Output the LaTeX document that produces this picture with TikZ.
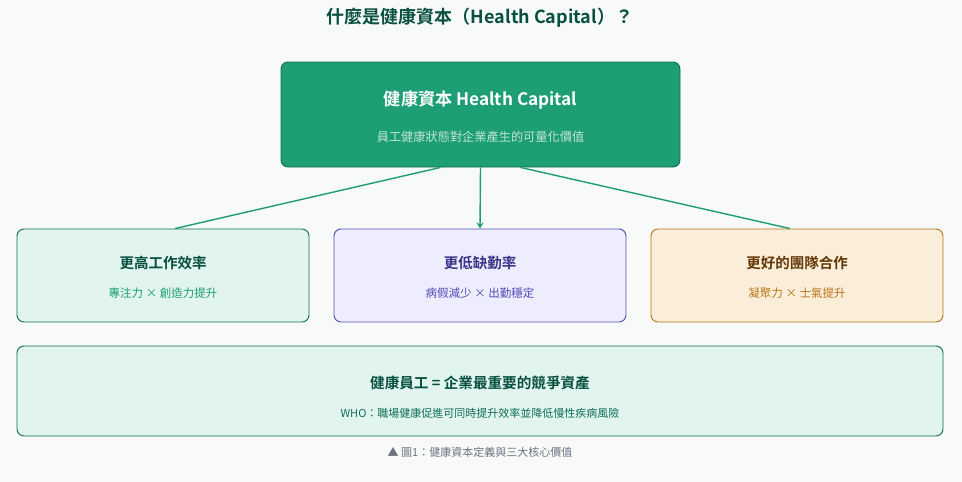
\documentclass[tikz,border=0pt]{standalone}
\usepackage{fontspec}
\setmainfont{Noto Sans CJK TC}[BoldFont={Noto Sans CJK TC Bold}]
\usetikzlibrary{arrows.meta}
\definecolor{bgcol}{HTML}{F8FAF9}
\definecolor{tealfill}{HTML}{1D9E75}
\definecolor{tealdark}{HTML}{0F6E56}
\definecolor{greenfill}{HTML}{E1F5EE}
\definecolor{greentext}{HTML}{085041}
\definecolor{purplefill}{HTML}{EEEDFE}
\definecolor{purpleline}{HTML}{534AB7}
\definecolor{purpletext}{HTML}{3C3489}
\definecolor{amberfill}{HTML}{FAEEDA}
\definecolor{amberline}{HTML}{BA7517}
\definecolor{ambertext}{HTML}{633806}
\definecolor{captiongray}{HTML}{6B7280}
\tikzset{
  card/.style={draw, rounded corners=7pt, line width=0.9pt, minimum width=292pt, minimum height=93pt, inner sep=0pt},
  cardtitle/.style={font=\bfseries\fontsize{14.5}{16}\selectfont},
  cardsub/.style={font=\fontsize{11.5}{13}\selectfont},
  link/.style={draw=tealfill, line width=1.4pt}
}
\begin{document}
\begin{tikzpicture}[x=1pt, y=-1pt]
  % 背景
  \fill[bgcol] (0,0) rectangle (962,482);
  \useasboundingbox (0,0) rectangle (962,482);
  % 标题
  \node[text=greentext, font=\bfseries\fontsize{18}{20}\selectfont] (title) at (480,18) {什麼是健康資本（Health Capital）？};
  % 顶部框
  \node[card, fill=tealfill, draw=tealdark, minimum width=399pt, minimum height=105pt] (top) at (480.5,114.5) {};
  \node[text=white, font=\bfseries\fontsize{17.2}{19}\selectfont] (toptitle) at (480.5,100) {健康資本 Health Capital};
  \node[text=white, opacity=0.72, font=\fontsize{12.2}{14}\selectfont] (topsub) at (480.5,137) {員工健康狀態對企業產生的可量化價值};
  % 三个框
  \node[card, fill=greenfill, draw=tealdark] (eff) at (163,275.5) {};
  \node[card, fill=purplefill, draw=purpleline] (abs) at (480,275.5) {};
  \node[card, fill=amberfill, draw=amberline] (team) at (797,275.5) {};
  \node[cardtitle, text=greentext] (efft) at (163,263) {更高工作效率};
  \node[cardsub, text=tealfill] (effs) at (163,293) {專注力 × 創造力提升};
  \node[cardtitle, text=purpletext] (abst) at (480,263) {更低缺勤率};
  \node[cardsub, text=purpleline] (abss) at (480,293) {病假減少 × 出勤穩定};
  \node[cardtitle, text=ambertext] (teamt) at (797,263) {更好的團隊合作};
  \node[cardsub, text=amberline] (teams) at (797,293) {凝聚力 × 士氣提升};
  % 连线
  \draw[link] ([xshift=-40pt]top.south) -- ([xshift=12pt]eff.north);
  \draw[link, -{Stealth[length=6pt, width=7pt]}] (top.south) -- (abs.north);
  \draw[link] ([xshift=40pt]top.south) -- ([xshift=-7pt]team.north);
  % 底部框
  \node[card, fill=greenfill, draw=tealdark, minimum width=926pt, minimum height=90pt] (who) at (480,391) {};
  \node[text=greentext, font=\bfseries\fontsize{14.6}{16}\selectfont] (whot) at (480,383) {健康員工 = 企業最重要的競爭資產};
  \node[text=tealdark, font=\fontsize{11}{13}\selectfont] (whos) at (480,413) {WHO：職場健康促進可同時提升效率並降低慢性疾病風險};
  % 图注
  \node[text=captiongray, font=\fontsize{11}{13}\selectfont] (caption) at (480,452) {▲ 圖1：健康資本定義與三大核心價值};
\end{tikzpicture}
\end{document}
